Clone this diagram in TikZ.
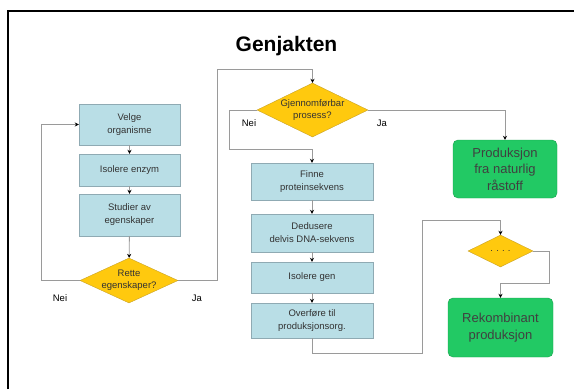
\documentclass[tikz,border=0pt]{standalone}
\usepackage{fontspec}
\setmainfont{Liberation Sans}
\usetikzlibrary{shapes.geometric,arrows.meta}

\definecolor{boxfill}{HTML}{B9DEE6}
\definecolor{boxline}{HTML}{8FAAB3}
\definecolor{gulfill}{HTML}{FFC90E}
\definecolor{gulline}{HTML}{C9A227}
\definecolor{gronnfill}{HTML}{22C964}
\definecolor{gronnline}{HTML}{16A04C}
\definecolor{linje}{HTML}{9A9A9A}

\tikzset{
  steg/.style={draw=boxline, fill=boxfill, rectangle, align=center,
    inner sep=0pt, font=\fontsize{9.5}{13}\selectfont, text=black!80},
  valg/.style={draw=gulline, fill=gulfill, diamond, inner sep=0pt},
  valgtekst/.style={align=center, inner sep=0pt, font=\fontsize{9.5}{12}\selectfont, text=black!80},
  resultat/.style={draw=gronnline, fill=gronnfill, rectangle, rounded corners=5pt,
    align=center, inner sep=0pt, font=\fontsize{13}{16.5}\selectfont, text=black!75},
  pil/.style={draw=linje, line width=0.9pt, -{Stealth[length=4pt,width=4pt,color=black]}},
  lab/.style={font=\fontsize{9.5}{10}\selectfont}
}

\begin{document}
\begin{tikzpicture}[x=1pt,y=-1pt]
  \useasboundingbox (0,0) rectangle (574,389);
  \draw[line width=1.2pt] (8,389) -- (8,11) -- (574,11);

  \node[font=\fontsize{21}{24}\selectfont\bfseries] (tittel) at (286.5,46) {Genjakten};

  % venstre kolonne
  \node[steg, minimum width=101pt, minimum height=41pt] (velge) at (129.5,124.5) {Velge\\organisme};
  \node[steg, minimum width=101pt, minimum height=32pt] (enzym) at (129.5,170) {Isolere enzym};
  \node[steg, minimum width=101pt, minimum height=42pt] (studier) at (129.5,215) {Studier av\\egenskaper};
  \node[valg, minimum width=98pt, minimum height=45pt,
    label={[valgtekst]center:Rette\\egenskaper?}] (rette) at (129,280.5) {};
  \node[lab] (nei1) at (60,298) {Nei};
  \node[lab] (ja1) at (197,298) {Ja};

  % midten
  \node[valg, minimum width=111pt, minimum height=54pt,
    label={[valgtekst]center:Gjennomførbar\\prosess?}] (gjennom) at (312.5,110) {};
  \node[lab] (nei2) at (249,123) {Nei};
  \node[lab] (ja2) at (382,123) {Ja};
  \node[steg, minimum width=122pt, minimum height=37pt] (finne) at (312,181.5) {Finne\\proteinsekvens};
  \node[steg, minimum width=122pt, minimum height=38pt] (dedusere) at (312,233) {Dedusere\\delvis DNA-sekvens};
  \node[steg, minimum width=122pt, minimum height=31pt] (gen) at (312,277.5) {Isolere gen};
  \node[steg, minimum width=122pt, minimum height=35pt] (overfore) at (312,320.5) {Overføre til\\produksjonsorg.};

  % høyre
  \node[resultat, minimum width=104pt, minimum height=58pt] (naturlig) at (505,169) {Produksjon\\fra naturlig\\råstoff};
  \node[valg, minimum width=65pt, minimum height=32pt,
    label={[valgtekst]center:.\,\,.\,\,.\,\,.}] (prikk) at (500.5,251) {};
  \node[resultat, minimum width=105pt, minimum height=59pt] (rekomb) at (500.5,327.5) {Rekombinant\\produksjon};

  % piler
  \draw[pil] (velge) -- (enzym);
  \draw[pil] (enzym) -- (studier);
  \draw[pil] (studier) -- (rette);
  \draw[pil] (rette.west) -- (41,280.5) |- (velge.west);
  \draw[pil] (rette.east) -- (217,280.5) |- (312.5,69) -- (gjennom.north);
  \draw[pil] (gjennom.west) -- (229,110) |- (312,149) -- (finne.north);
  \draw[pil] (gjennom.east) -| (naturlig.north);
  \draw[pil] (finne) -- (dedusere);
  \draw[pil] (dedusere) -- (gen);
  \draw[pil] (gen) -- (overfore);
  \draw[pil] (overfore.south) -- (312,353) -| (422,220) -| (prikk.north);
  \draw[pil] (prikk.east) -- (549,251) |- (500.5,283) -- (rekomb.north);
\end{tikzpicture}
\end{document}
